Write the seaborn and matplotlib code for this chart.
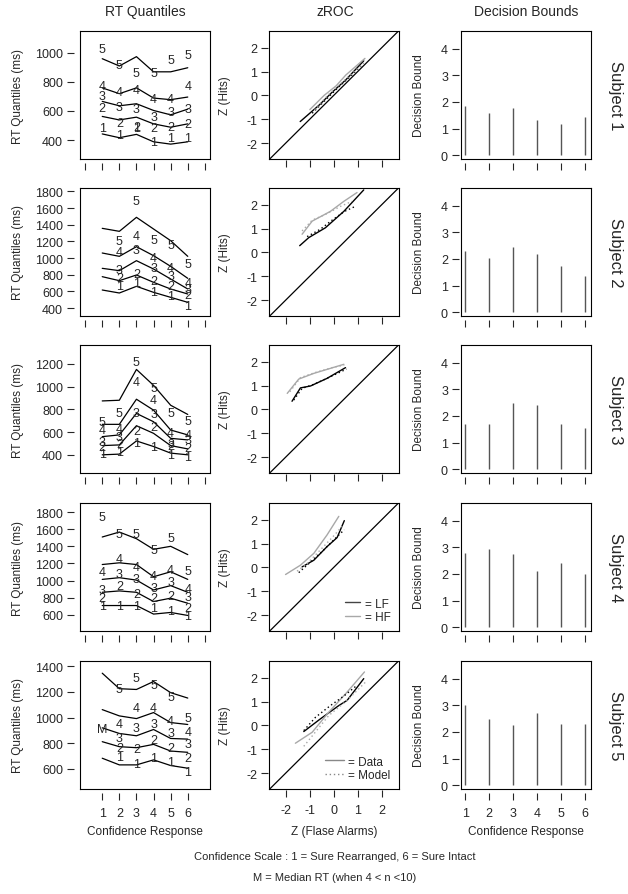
import numpy as np
import seaborn as sns
import matplotlib.pyplot as plt
from matplotlib.lines import Line2D

sns.set_style("white")
plt.rcParams['font.family'] = ['Liberation Sans', 'DejaVu Sans']

# ---------------- data ----------------
conf = [1, 2, 3, 4, 5, 6]
subjects = ["Subject 1", "Subject 2", "Subject 3", "Subject 4", "Subject 5"]
nan = np.nan

# RT quantile lines (model), quantiles 1..5, one list per subject
s1_lines = [[442, 416, 439, 388, 372, 388],
            [562, 538, 557, 511, 488, 511],
            [665, 635, 649, 603, 573, 612],
            [758, 718, 758, 688, 677, 695],
            [958, 908, 972, 868, 868, 896]]
s2_lines = [[616, 580, 660, 588, 528, 468],
            [776, 728, 796, 708, 628, 568],
            [876, 848, 968, 868, 748, 628],
            [1060, 1020, 1136, 1028, 900, 756],
            [1356, 1320, 1488, 1348, 1208, 1020]]
s3_lines = [[400, 406, 522, 473, 415, 400],
            [481, 487, 656, 589, 481, 452],
            [560, 575, 764, 691, 545, 531],
            [668, 668, 889, 793, 618, 575],
            [874, 880, 1151, 1011, 836, 755]]
s4_lines = [[708, 708, 708, 608, 627, 592],
            [863, 879, 863, 755, 794, 735],
            [1014, 1034, 1006, 890, 941, 863],
            [1188, 1208, 1188, 1045, 1103, 1014],
            [1510, 1568, 1490, 1366, 1401, 1304]]
s5_lines = [[683, 631, 631, 670, 626, 605],
            [812, 773, 765, 791, 739, 729],
            [920, 876, 858, 907, 837, 832],
            [1062, 1013, 992, 1039, 961, 946],
            [1346, 1225, 1219, 1281, 1194, 1152]]

# RT quantile numbers (data), quantiles 1..5
s1_nums = [[481, 435, 481, 388, 412, 412],
           [619, 515, 488, 481, 492, 511],
           [700, 626, 612, 557, 589, 612],
           [769, 728, 746, 682, 682, 769],
           [1023, 912, 862, 857, 949, 982]]
s2_nums = [[nan, 660, 700, 596, 540, 420],
           [nan, 756, 808, 728, 668, 556],
           [nan, 860, 1100, 876, 788, 628],
           [nan, 1076, 1260, 996, 876, 700],
           [nan, 1208, 1688, 1220, 1156, 928]]
s3_nums = [[406, 429, 502, 473, 394, 377],
           [473, 493, 609, 647, 481, 464],
           [511, 560, 764, 755, 493, 531],
           [618, 627, 1040, 880, 589, 575],
           [685, 764, 1220, 988, 772, 697]]
s4_nums = [[708, 697, 708, 677, 639, 581],
           [801, 941, 840, 801, 824, 685],
           [890, 1072, 1018, 917, 979, 813],
           [1095, 1258, 1161, 1057, 1123, 902],
           [1742, 1548, 1548, 1355, 1498, 1111]]
s5_nums = [[nan, 695, 636, 688, 657, 574],
           [nan, 765, 755, 825, 765, 683],
           [nan, 837, 915, 946, 876, 791],
           [nan, 946, 1075, 1075, 972, 884],
           [nan, 1219, 1307, 1250, 1160, 997]]
s5_median_x = [1]
s5_median_y = [910]

rt_lines = [s1_lines, s2_lines, s3_lines, s4_lines, s5_lines]
rt_nums = [s1_nums, s2_nums, s3_nums, s4_nums, s5_nums]
rt_ylim = [(270, 1148), (304, 1840), (240, 1366), (410, 1908), (443, 1441)]
rt_yticks = [[400, 600, 800, 1000],
             list(range(400, 1801, 200)),
             [400, 600, 800, 1000, 1200],
             list(range(600, 1801, 200)),
             [600, 800, 1000, 1200, 1400]]

# zROC: (x, y) for LF data, HF data, LF model, HF model
s1_zroc = [([-1.4, -0.6, -0.1, 0.5, 1.25], [-1.1, -0.4, 0.1, 0.65, 1.45]),
           ([-1.0, -0.4, 0.1, 0.5, 1.3], [-0.6, 0.0, 0.4, 0.85, 1.55]),
           ([-0.9, -0.3, 0.2, 0.7, 1.2], [-0.75, -0.15, 0.35, 0.8, 1.3]),
           ([-0.8, -0.2, 0.3, 0.8, 1.3], [-0.6, 0.05, 0.5, 0.95, 1.4])]
s2_zroc = [([-1.42, -1.04, -0.35, 0.42, 1.25], [0.28, 0.62, 1.03, 1.72, 2.62]),
           ([-1.32, -0.9, -0.14, 0.42, 0.97], [0.76, 1.31, 1.72, 2.14, 2.51]),
           ([-1.11, -0.56, -0.07, 0.45, 0.9], [0.66, 0.97, 1.35, 1.72, 1.93]),
           ([-1.32, -0.9, -0.35, 0.28, 0.76], [0.9, 1.35, 1.59, 1.93, 2.14])]
s3_zroc = [([-1.74, -1.39, -0.97, -0.28, 0.49], [0.34, 0.9, 0.98, 1.3, 1.75]),
           ([-1.94, -1.46, -0.83, -0.14, 0.42], [0.67, 1.27, 1.51, 1.72, 1.89]),
           ([-1.67, -1.32, -0.83, -0.14, 0.53], [0.39, 0.88, 1.05, 1.37, 1.69]),
           ([-1.83, -1.39, -0.76, -0.07, 0.44], [0.74, 1.33, 1.55, 1.75, 1.86])]
s4_zroc = [([-1.32, -0.83, -0.28, 0.14, 0.44], [0.02, 0.3, 0.87, 1.25, 1.96]),
           ([-2.01, -1.39, -0.83, -0.28, 0.21], [-0.3, 0.09, 0.59, 1.36, 2.14]),
           ([-1.46, -1.04, -0.49, 0.0, 0.44], [-0.22, 0.16, 0.66, 1.15, 1.58]),
           ([-1.53, -1.11, -0.56, -0.03, 0.35], [-0.16, 0.16, 0.73, 1.29, 1.72])]
s5_zroc = [([-1.25, -0.56, 0.21, 0.56, 1.25], [-0.26, 0.27, 0.83, 1.05, 1.96]),
           ([-1.6, -0.9, -0.21, 0.56, 1.28], [-0.75, -0.29, 0.55, 1.4, 2.24]),
           ([-1.25, -0.76, -0.14, 0.42, 0.97], [-0.22, 0.34, 0.83, 1.23, 1.68]),
           ([-1.25, -0.83, -0.21, 0.56, 1.36], [-0.88, -0.36, 0.41, 1.05, 1.85])]
zroc_all = [s1_zroc, s2_zroc, s3_zroc, s4_zroc, s5_zroc]
zroc_ticks = [-2, -1, 0, 1, 2]

# decision bounds per subject
bounds = [[1.84, 1.59, 1.78, 1.34, 1.19, 1.43],
          [2.3, 2.05, 2.45, 2.2, 1.75, 1.35],
          [1.7, 1.7, 2.5, 2.4, 1.7, 1.55],
          [2.8, 2.95, 2.75, 2.1, 2.4, 2.0],
          [3.0, 2.5, 2.25, 2.7, 2.3, 2.3]]
bound_ticks = [0, 1, 2, 3, 4]

# ---------------- layout ----------------
W, H = 628, 895
fig = plt.figure(figsize=(W / 100, H / 100), dpi=100)

col_left = [80, 269, 461]
col_w = 130
row_top = [32, 189, 346, 504, 662]
row_h = 128
TICK_FS = 9
LAB_FS = 8.5
NUM_FS = 9
zroc_styles = [("black", "-"), ("#a8a8a8", "-"), ("black", (0, (1, 2))), ("#a8a8a8", (0, (1, 2)))]


def make_ax(row, col):
    l, t = col_left[col], row_top[row]
    return fig.add_axes([l / W, 1 - (t + row_h) / H, col_w / W, row_h / H])


def r_axis(ax, xticks, xlabels, yticks, gx, gy):
    # R-style axes: full box, ticks drawn slightly outside it
    ax.set_xticks([])
    ax.set_yticks([])
    for s in ax.spines.values():
        s.set_visible(True)
        s.set_color("black")
        s.set_linewidth(0.8)
    sx = ax.secondary_xaxis(-gx)
    sx.set_xticks(xticks)
    sx.set_xticklabels(xlabels)
    sx.spines["bottom"].set_visible(False)
    sx.tick_params(length=5, width=0.8, labelsize=TICK_FS, pad=5)
    sy = ax.secondary_yaxis(-gy)
    sy.set_yticks(yticks)
    sy.set_yticklabels([str(v) for v in yticks])
    sy.spines["left"].set_visible(False)
    sy.tick_params(length=5, width=0.8, labelsize=TICK_FS, pad=3)


for r in range(5):
    last = r == 4

    # ----- RT quantiles -----
    ax = make_ax(r, 0)
    for q in range(5):
        sns.lineplot(x=conf, y=rt_lines[r][q], ax=ax, color="black", lw=0.9,
                     estimator=None, sort=False)
        for cx, v in zip(conf, rt_nums[r][q]):
            if not np.isnan(v):
                ax.text(cx, v, str(q + 1), ha="center", va="center", fontsize=NUM_FS)
    if r == 4:
        for cx, v in zip(s5_median_x, s5_median_y):
            ax.text(cx, v, "M", ha="center", va="center", fontsize=NUM_FS)
    ax.set_xlim(-0.3, 7.3)
    ax.set_ylim(*rt_ylim[r])
    if last:
        r_axis(ax, conf, [str(c) for c in conf], rt_yticks[r], 0.035, 0.045)
        ax.set_xlabel("Confidence Response", fontsize=LAB_FS)
        ax.xaxis.set_label_coords(0.5, -0.28)
    else:
        r_axis(ax, list(range(8)), [""] * 8, rt_yticks[r], 0.035, 0.045)
    ax.set_ylabel("RT Quantiles (ms)", fontsize=LAB_FS)
    ax.yaxis.set_label_coords(-0.43, 0.5)

    # ----- zROC -----
    ax = make_ax(r, 1)
    ax.axline((0, 0), slope=1, color="black", lw=0.9)
    for (zx, zy), (c, ls) in zip(zroc_all[r], zroc_styles):
        sns.lineplot(x=zx, y=zy, ax=ax, color=c, linestyle=ls, lw=1.0,
                     estimator=None, sort=False)
    ax.set_xlim(-2.7, 2.72)
    ax.set_ylim(-2.67, 2.7)
    r_axis(ax, zroc_ticks, [str(v) for v in zroc_ticks] if last else [""] * 5,
           zroc_ticks, 0.005, 0.005)
    ax.set_ylabel("Z (Hits)", fontsize=LAB_FS)
    ax.yaxis.set_label_coords(-0.29, 0.5)
    if r == 3:
        h = [Line2D([], [], color="#444444", lw=1), Line2D([], [], color="#a8a8a8", lw=1)]
        ax.legend(h, ["= LF", "= HF"], loc="lower right", frameon=False, fontsize=8.5,
                  handlelength=1.3, handletextpad=0.4, labelspacing=0.1,
                  borderaxespad=0.3)
    if last:
        h = [Line2D([], [], color="#888888", lw=1),
             Line2D([], [], color="#888888", lw=1, linestyle=(0, (1, 2)))]
        ax.legend(h, ["= Data", "= Model"], loc="lower right", frameon=False, fontsize=8.5,
                  handlelength=1.6, handletextpad=0.4, labelspacing=0.1,
                  borderaxespad=0.3)
        ax.set_xlabel("Z (Flase Alarms)", fontsize=LAB_FS)
        ax.xaxis.set_label_coords(0.5, -0.28)

    # ----- decision bounds -----
    ax = make_ax(r, 2)
    ax.vlines(conf, 0, bounds[r], color="#555555", lw=1.0)
    ax.set_xlim(0.83, 6.25)
    ax.set_ylim(-0.14, 4.66)
    r_axis(ax, conf, [str(c) for c in conf] if last else [""] * 6,
           bound_ticks, 0.035, 0.015)
    ax.set_ylabel("Decision Bound", fontsize=LAB_FS)
    ax.yaxis.set_label_coords(-0.28, 0.5)
    if last:
        ax.set_xlabel("Confidence Response", fontsize=LAB_FS)
        ax.xaxis.set_label_coords(0.5, -0.28)

    # subject label
    fig.text(615 / W, 1 - (row_top[r] + row_h / 2) / H, subjects[r], rotation=270,
             ha="center", va="center", fontsize=12)

# column titles
for x, t in zip([145, 335, 526], ["RT Quantiles", "zROC", "Decision Bounds"]):
    fig.text(x / W, 1 - 12 / H, t, ha="center", va="center", fontsize=10)

fig.text(335 / W, 1 - 857 / H, "Confidence Scale : 1 = Sure Rearranged, 6 = Sure Intact",
         ha="center", va="center", fontsize=8)
fig.text(335 / W, 1 - 878 / H, "M = Median RT (when 4 < n <10)",
         ha="center", va="center", fontsize=8)

fig.savefig("out.png", dpi=100)
